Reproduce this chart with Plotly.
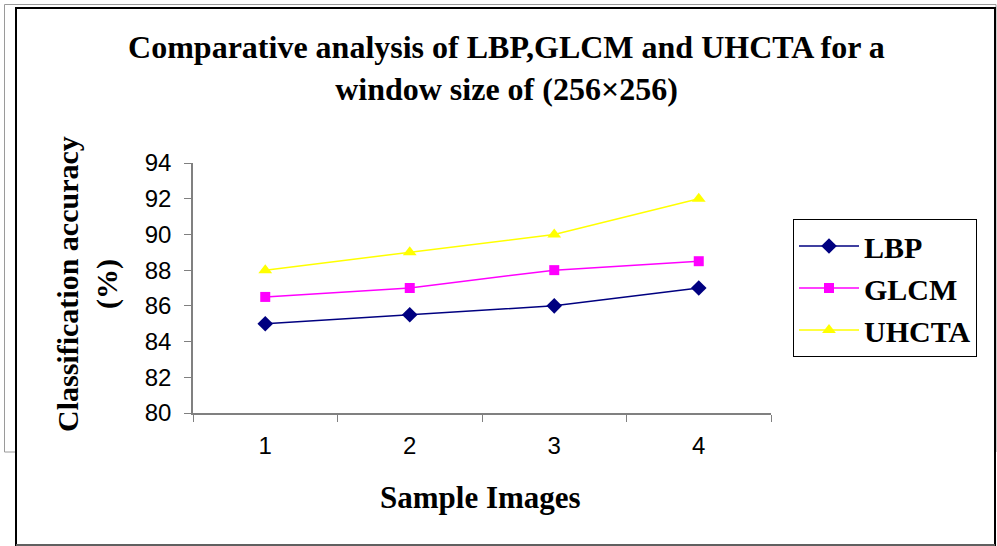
import plotly.graph_objects as go

categories = ["1", "2", "3", "4"]
lbp = [85, 85.5, 86, 87]
glcm = [86.5, 87, 88, 88.5]
uhcta = [88, 89, 90, 92]
y_ticks = [80, 82, 84, 86, 88, 90, 92, 94]

W, H = 997, 546
L, R, T, B = 193, 771, 163, 413

def px(xp):
    return (xp - L) / (R - L)

def py(yp):
    return (B - yp) / (B - T)

serif = "Liberation Serif"
sans = "Liberation Sans"

fig = go.Figure()
series = [
    ("LBP", lbp, "#000080", "diamond", 12),
    ("GLCM", glcm, "#FF00FF", "square", 10),
    ("UHCTA", uhcta, "#FFFF00", "triangle-up", 12),
]
for name, vals, col, sym, sz in series:
    fig.add_trace(go.Scatter(
        x=categories, y=vals, name="<b>" + name + "</b>", mode="lines+markers",
        line=dict(color=col, width=1.5),
        marker=dict(symbol=sym, size=sz, color=col),
    ))

shapes = [
    dict(type="rect", xref="paper", yref="paper", x0=px(4.5), x1=px(996), y0=py(452), y1=py(4.5),
         line=dict(color="#9a9a9a", width=1), fillcolor="white", layer="below"),
    dict(type="rect", xref="paper", yref="paper", x0=px(16), x1=px(995), y0=py(545), y1=py(8),
         line=dict(color="black", width=2), fillcolor="white", layer="below"),
    dict(type="line", xref="paper", yref="paper", x0=px(16), x1=px(995), y0=py(545), y1=py(545),
         line=dict(color="#808080", width=1.5), layer="below"),
]

fig.update_layout(
    width=W, height=H,
    margin=dict(l=L, r=W - R, t=T, b=H - B),
    paper_bgcolor="white", plot_bgcolor="white",
    showlegend=True,
    title=dict(
        text="<b>Comparative analysis of LBP,GLCM and UHCTA for a<br>window size of (256×256)</b>",
        x=0.508, xanchor="center", y=1 - 58 / H, yanchor="middle", yref="container",
        font=dict(family=serif, size=32, color="black"),
    ),
    xaxis=dict(
        type="category", range=[-0.5, 3.5], tickson="boundaries",
        ticks="outside", ticklen=7, tickcolor="#808080",
        showline=True, linecolor="#808080", linewidth=1.5,
        showgrid=False, zeroline=False,
        tickfont=dict(family=sans, size=24, color="black"),
        ticklabelstandoff=10,
    ),
    yaxis=dict(
        range=[80, 94], tickvals=y_ticks,
        ticks="outside", ticklen=7, tickcolor="#808080",
        showline=True, linecolor="#808080", linewidth=1.5,
        showgrid=False, zeroline=False,
        tickfont=dict(family=sans, size=24, color="black"),
        ticklabelstandoff=8,
    ),
    legend=dict(
        x=px(793), y=py(219), xanchor="left", yanchor="top",
        bordercolor="black", borderwidth=1, bgcolor="white",
        font=dict(family=serif, size=30, color="black"),
        itemwidth=60,
    ),
    shapes=shapes,
    annotations=[
        dict(text="<b>Sample Images</b>", xref="paper", yref="paper", x=px(480), y=py(497),
             xanchor="center", yanchor="middle", showarrow=False,
             font=dict(family=serif, size=31, color="black")),
        dict(text="<b>Classification accuracy<br>(%)</b>", xref="paper", yref="paper",
             x=px(87), y=py(284), xanchor="center", yanchor="middle", textangle=-90,
             showarrow=False, font=dict(family=serif, size=30, color="black")),
    ],
)

fig.write_html("out.html")
